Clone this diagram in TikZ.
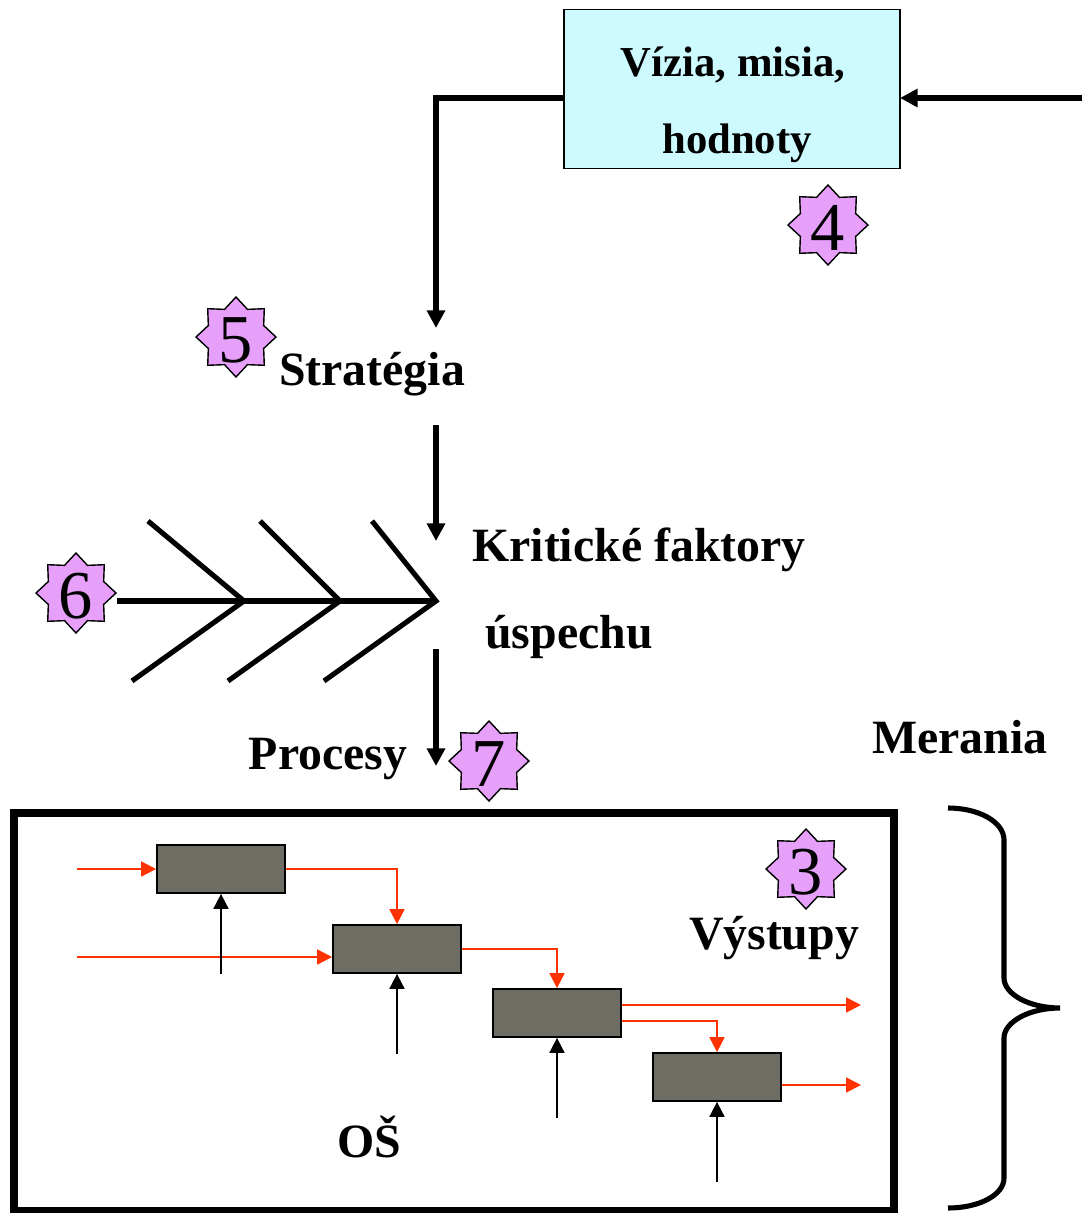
\documentclass[tikz,border=0pt]{standalone}
\usepackage{fontspec}
\setmainfont{Liberation Serif}
\usetikzlibrary{shapes.geometric,arrows.meta}
\definecolor{boxcyan}{HTML}{CCFAFF}
\definecolor{starpink}{HTML}{E6A0FA}
\definecolor{procgray}{HTML}{6E6E64}
\definecolor{flowred}{HTML}{FF3300}
\tikzset{
	lab/.style={font=\bfseries\fontsize{27.2}{27.2}\selectfont, inner sep=0pt},
	toplab/.style={font=\bfseries\fontsize{24.3}{24.3}\selectfont, inner sep=0pt},
	digit/.style={font=\fontsize{39}{39}\selectfont, inner sep=0pt, yshift=-0.06cm},
	badge/.style={star, star points=8, star point ratio=1.336, minimum size=80*0.02cm, inner sep=0pt, draw=black, line width=0.8pt, fill=starpink},
	proc/.style={draw=black, line width=1pt, fill=procgray, minimum width=128*0.02cm, minimum height=48*0.02cm, inner sep=0pt},
	thick line/.style={line width=2.9pt},
	big arrow/.style={line width=2.9pt, -{Triangle[length=10pt,width=10pt]}},
	red arrow/.style={draw=flowred, line width=1pt, -{Triangle[length=8.5pt,width=8.5pt]}},
	black arrow/.style={line width=1pt, -{Triangle[length=8.5pt,width=8.5pt]}}
}
\begin{document}
\begin{tikzpicture}[x=0.02cm,y=-0.02cm]
	\useasboundingbox (0,0) rectangle (1082,1213);
	% top box
	\node[draw=black, line width=0.9pt, fill=boxcyan, minimum width=336*0.02cm, minimum height=159*0.02cm, inner sep=0pt] (vizia) at (732,89) {};
	\node[toplab] (t1) at (733,65) {Vízia, misia,};
	\node[toplab] (t2) at (737,143) {hodnoty};
	\coordinate (right) at (1082,98);
	\coordinate (vl) at (564,98);
	\coordinate (vr) at (900,98);
	\coordinate (bend) at (436,98);
	\coordinate (s1) at (436,328);
	\draw[big arrow] (right) -- (vr);
	\draw[big arrow] (vl) -- (bend) -- (s1);
	\node[badge, label={[digit]center:4}] (b4) at (828,225) {};
	\node[badge, label={[digit]center:5}] (b5) at (236,337) {};
	\node[lab] (strat) at (372,374) {Stratégia};
	\coordinate (a1) at (436,425);
	\coordinate (a2) at (436,541);
	\draw[big arrow] (a1) -- (a2);
	% fishbone
	\node[badge, label={[digit]center:6}] (b6) at (76,593) {};
	\coordinate (j1) at (244,601);
	\coordinate (j2) at (340,601);
	\coordinate (j3) at (436,601);
	\coordinate (u1) at (148,521);
	\coordinate (u2) at (260,521);
	\coordinate (u3) at (372,521);
	\coordinate (d1) at (132,681);
	\coordinate (d2) at (228,681);
	\coordinate (d3) at (324,681);
	\draw[thick line] (b6.east |- j1) -- (j3);
	\draw[thick line] (u1) -- (j1) -- (d1);
	\draw[thick line] (u2) -- (j2) -- (d2);
	\draw[thick line] (u3) -- (j3) -- (d3);
	\node[lab, anchor=west] (kf) at (472,550) {Kritické faktory};
	\node[lab, anchor=west] (us) at (485,637) {úspechu};
	\coordinate (a3) at (436,649);
	\coordinate (a4) at (436,766);
	\draw[big arrow] (a3) -- (a4);
	\node[lab] (procesy) at (328,759) {Procesy};
	\node[badge, label={[digit]center:7}] (b7) at (489,761) {};
	\node[lab] (mer) at (960,737) {Merania};
	% big frame
	\draw[line width=4.5pt] (14,813) rectangle (894,1211);
	\node[badge, label={[digit]center:3}] (b3) at (806,869) {};
	\node[lab] (vyst) at (774,938) {Výstupy};
	\node[lab] (os) at (369,1137) {OŠ};
	% processes
	\node[proc] (p1) at (221,869) {};
	\node[proc] (p2) at (397,949) {};
	\node[proc] (p3) at (557,1013) {};
	\node[proc] (p4) at (717,1077) {};
	\coordinate (i1) at (77,869);
	\coordinate (i2) at (77,957);
	\coordinate (o3) at (861,1005);
	\coordinate (o4) at (861,1085);
	\draw[red arrow] (i1) -- (p1.west);
	\draw[red arrow] (i2) -- (p2.west |- i2);
	\draw[red arrow] (p1.east) -| (p2.north);
	\draw[red arrow] (p2.east) -| (p3.north);
	\draw[red arrow] (p3.east |- o3) -- (o3);
	\draw[red arrow] (622,1021) -| (p4.north);
	\draw[red arrow] (p4.east |- o4) -- (o4);
	\coordinate (c1) at (221,974);
	\coordinate (c2) at (397,1054);
	\coordinate (c3) at (557,1118);
	\coordinate (c4) at (717,1182);
	\draw[black arrow] (c1) -- (p1.south);
	\draw[black arrow] (c2) -- (p2.south);
	\draw[black arrow] (c3) -- (p3.south);
	\draw[black arrow] (c4) -- (p4.south);
	% brace
	\draw[line width=2.9pt] (948,808) .. controls (979,808) and (1004,822) .. (1004,840) -- (1004,978) .. controls (1004,994) and (1029,1008) .. (1060,1008) .. controls (1029,1008) and (1004,1022) .. (1004,1038) -- (1004,1178) .. controls (1004,1195) and (979,1208) .. (948,1208);
\end{tikzpicture}
\end{document}
